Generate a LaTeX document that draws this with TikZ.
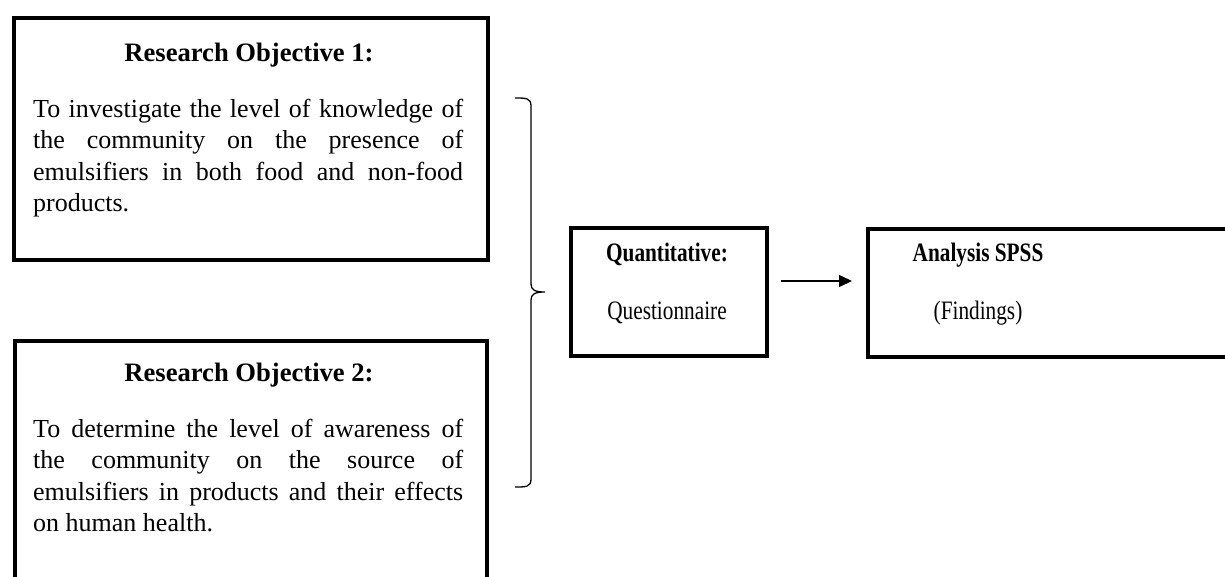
\documentclass[tikz,border=0pt]{standalone}
\usepackage{fontspec}
\setmainfont{Liberation Serif}
\usepackage{graphicx}
\usetikzlibrary{arrows.meta}
\newcommand{\nohyphens}{\hyphenpenalty=10000 \exhyphenpenalty=10000 \tolerance=9999 }
\begin{document}
\begin{tikzpicture}[x=1pt,y=-1pt,
  box/.style={draw, line width=4pt, inner sep=0pt, anchor=north west},
  head/.style={inner sep=0pt, anchor=base, font=\fontsize{26.6}{31.5}\selectfont\bfseries},
  plain/.style={inner sep=0pt, anchor=base, font=\fontsize{26.6}{31.5}\selectfont},
  body/.style={inner sep=0pt, anchor=base west, text width=430pt, align=justify,
    font=\fontsize{26}{31.6}\selectfont},
  bracestyle/.style={line width=1.3pt},
  arr/.style={line width=1.5pt, -{Triangle[length=13pt,width=12pt]}}
]
\useasboundingbox (0,0) rectangle (1225,576);
\clip (0,0) rectangle (1225,576);

% boxes
\node[box, minimum width=474pt, minimum height=242pt] (ro1) at (12,16) {};
\node[box, minimum width=472pt, minimum height=281pt] (ro2) at (13,339) {};
\node[box, minimum width=196pt, minimum height=128pt] (quant) at (569,226) {};
\node[box, minimum width=374pt, minimum height=128pt] (ana) at (866,227) {};

% texts
\node[head] (h1) at (249,61) {Research Objective 1:};
\node[body] (b1) at (33,117) {\nohyphens To investigate the level of knowledge of\linebreak the community on the presence of\linebreak emulsifiers in both food and non-food\linebreak products.};
\node[head] (h2) at (249,381) {Research Objective 2:};
\node[body] (b2) at (33,437) {\nohyphens To determine the level of awareness of\linebreak the community on the source of\linebreak emulsifiers in products and their effects\linebreak on human health.};
\node[head] (qh) at (667,261) {\scalebox{0.8}[1]{Quantitative:}};
\node[plain] (qt) at (667,319) {\scalebox{0.8}[1]{Questionnaire}};
\node[head] (ah) at (978,261) {\scalebox{0.8}[1]{Analysis SPSS}};
\node[plain] (at) at (978,319) {\scalebox{0.8}[1]{(Findings)}};

% brace
\draw[bracestyle] (515,98) .. controls (526,98) and (531,98) .. (531,106) -- (531,284)
  .. controls (531,290) and (535,292) .. (545,292)
  .. controls (535,292) and (531,294) .. (531,300) -- (531,479)
  .. controls (531,487) and (526,487) .. (515,487);

% arrow
\draw[arr, shorten <=12pt, shorten >=14pt] ([yshift=11pt]quant.east) -- ([yshift=11pt]quant.east -| ana.west);
\end{tikzpicture}
\end{document}
